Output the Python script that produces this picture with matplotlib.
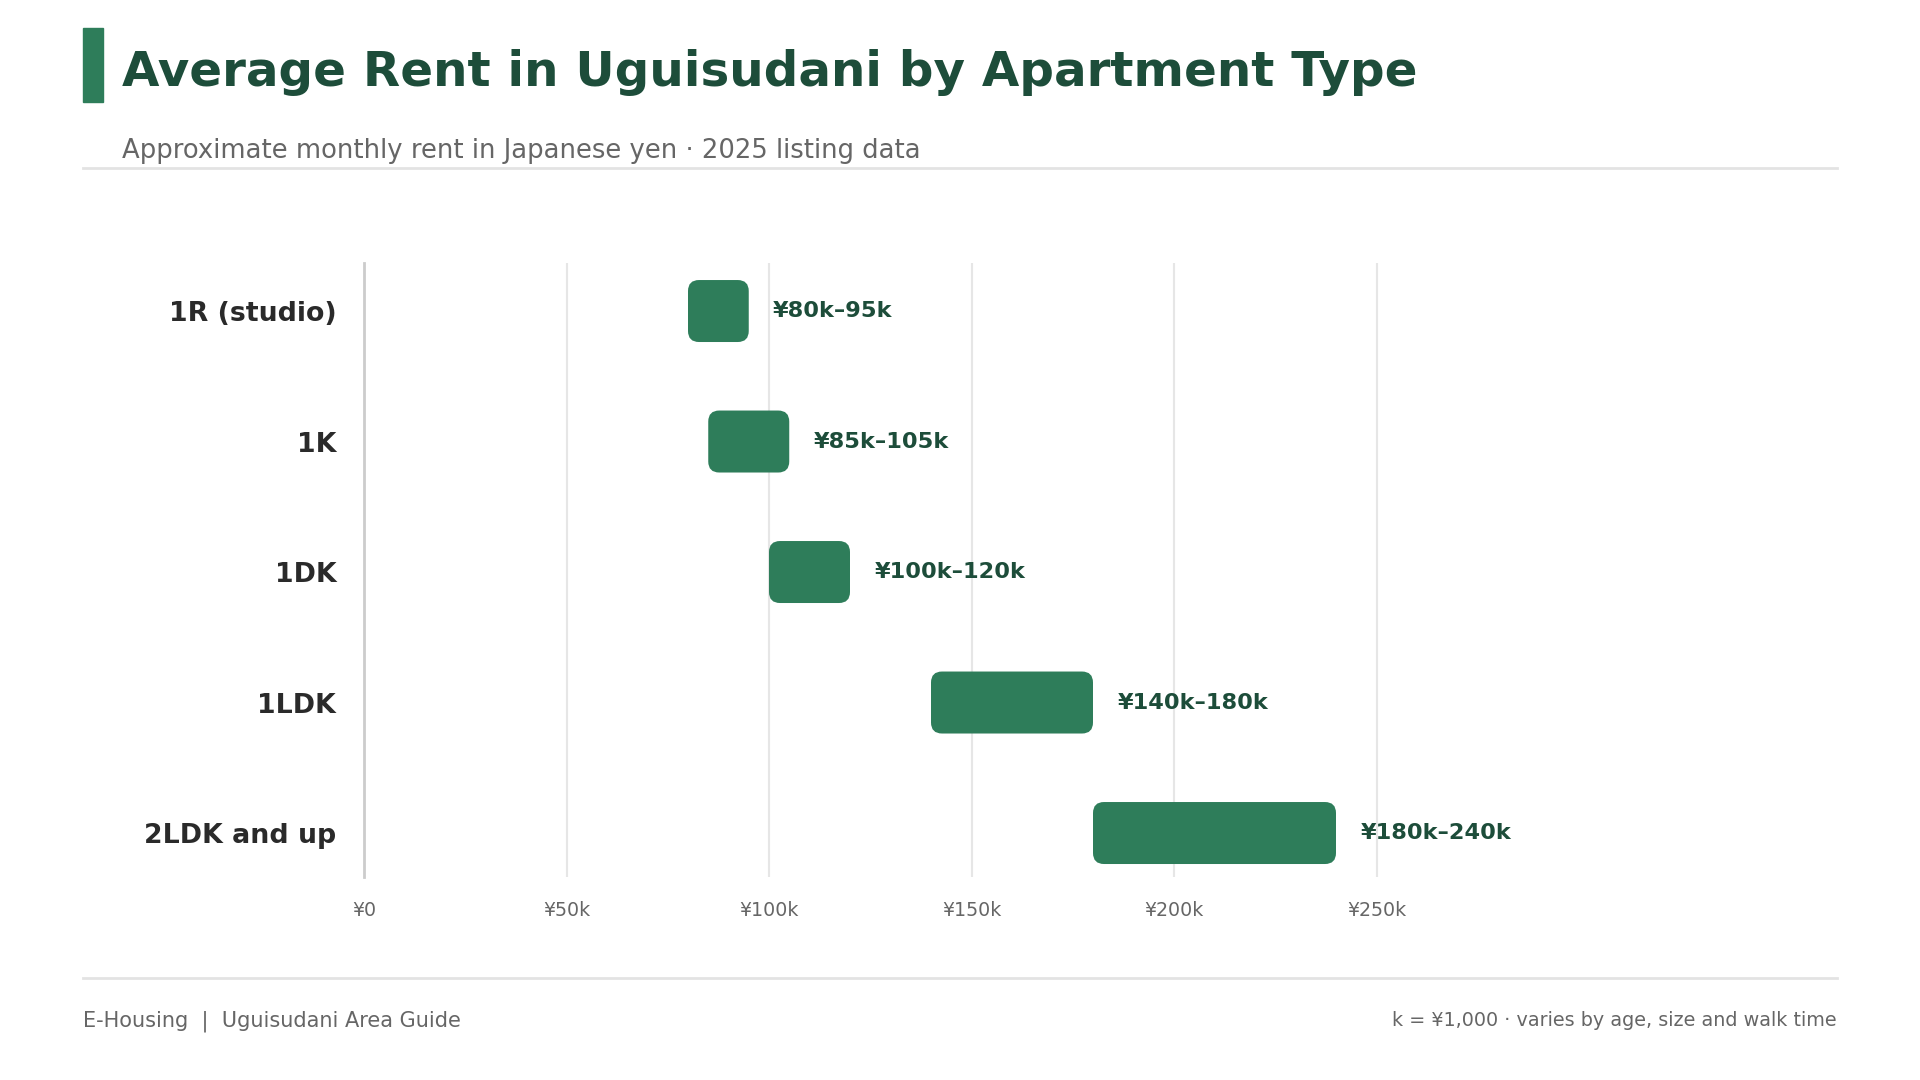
import matplotlib
matplotlib.use("Agg")
import matplotlib.pyplot as plt
from matplotlib.patches import FancyBboxPatch, Rectangle
from matplotlib.lines import Line2D

plt.rcParams['font.family'] = ['DejaVu Sans']

# ---- data ----
categories = ["1R (studio)", "1K", "1DK", "1LDK", "2LDK and up"]
low_k = [80, 85, 100, 140, 180]
high_k = [95, 105, 120, 180, 240]
range_labels = ["¥80k–95k", "¥85k–105k", "¥100k–120k", "¥140k–180k", "¥180k–240k"]
tick_values = [0, 50, 100, 150, 200, 250]
tick_labels = ["¥0", "¥50k", "¥100k", "¥150k", "¥200k", "¥250k"]

title = "Average Rent in Uguisudani by Apartment Type"
subtitle = "Approximate monthly rent in Japanese yen · 2025 listing data"
footer_left = "E-Housing  |  Uguisudani Area Guide"
footer_right = "k = ¥1,000 · varies by age, size and walk time"

# ---- style ----
BAR = "#2e7d5a"
DARK = "#1d4d3a"
W, H = 1920, 1080
fig = plt.figure(figsize=(19.2, 10.8), dpi=100)
fig.patch.set_facecolor("white")

def fx(px):
    return px / W

def fy(py):
    return 1 - py / H

# accent bar + title
fig.patches.append(Rectangle((fx(83), fy(102)), fx(20), (102 - 28) / H,
                             transform=fig.transFigure, color=BAR, zorder=3))
fig.text(fx(122), fy(72), title, fontsize=34.8, fontweight="bold", color=DARK,
         va="center", ha="left")
fig.text(fx(122), fy(151), subtitle, fontsize=18.6, color="#666666",
         va="center", ha="left")
fig.add_artist(Line2D([fx(83), fx(1837)], [fy(168), fy(168)],
                      transform=fig.transFigure, color="#e3e3e3", lw=2))

# footer
fig.add_artist(Line2D([fx(83), fx(1837)], [fy(978), fy(978)],
                      transform=fig.transFigure, color="#e3e3e3", lw=2))
fig.text(fx(83), fy(1021), footer_left, fontsize=15, color="#666666",
         va="center", ha="left")
fig.text(fx(1837), fy(1021), footer_right, fontsize=13.75, color="#666666",
         va="center", ha="right")

# axes
ax_left, ax_right, ax_top, ax_bottom = 364, 1822, 263, 877
ax = fig.add_axes([fx(ax_left), fy(ax_bottom), (ax_right - ax_left) / W,
                   (ax_bottom - ax_top) / H])
ax.set_xlim(0, 360)
ax.set_ylim(4.337, -0.368)

for s in ["top", "right", "bottom"]:
    ax.spines[s].set_visible(False)
ax.spines["left"].set_color("#cccccc")
ax.spines["left"].set_linewidth(2)

ax.set_xticks(tick_values)
ax.set_xticklabels(tick_labels, fontsize=13.7, color="#666666")
ax.tick_params(axis="x", length=0, pad=17)
ax.set_yticks(range(len(categories)))
ax.set_yticklabels(categories, fontsize=19.3, fontweight="bold", color="#2a2a2a")
ax.tick_params(axis="y", length=0, pad=20)
for v in tick_values[1:]:
    ax.axvline(v, color="#e6e6e6", lw=1.5, zorder=0)

fig.canvas.draw()
# pixel scale for correct rounded corners
p0 = ax.transData.transform((0, 0))
p1 = ax.transData.transform((1, 1))
px_per_x = abs(p1[0] - p0[0])
px_per_y = abs(p1[1] - p0[1])
radius_px = 11
bar_h = 0.475
for i, (lo, hi, lab) in enumerate(zip(low_k, high_k, range_labels)):
    patch = FancyBboxPatch((lo, i - bar_h / 2), hi - lo, bar_h,
                           boxstyle=f"round,pad=0,rounding_size={radius_px / px_per_x}",
                           mutation_aspect=px_per_x / px_per_y,
                           facecolor=BAR, edgecolor="none", zorder=3)
    ax.add_patch(patch)
    ax.annotate(lab, xy=(hi, i), xytext=(17.5, 0), textcoords="offset points",
                va="center", ha="left", fontsize=16.2, fontweight="bold", color=DARK)

fig.savefig("out.png", dpi=100, facecolor="white")
